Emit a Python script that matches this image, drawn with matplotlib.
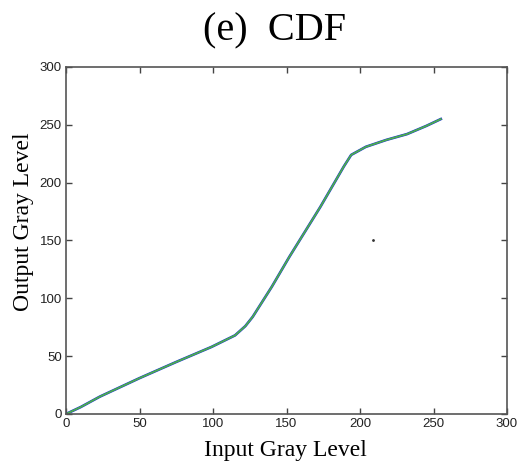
import matplotlib
matplotlib.use("Agg")
import matplotlib.pyplot as plt

# gray level transform (input -> output)
x_in = [0, 10, 23, 50, 75, 99, 115, 122, 127, 140, 152, 173, 189, 194, 204, 218, 232, 245, 255]
y_out = [0, 6, 15, 31, 45, 58, 68, 76, 84, 110, 136, 179, 214, 224, 231, 237, 242, 249, 255]
xticks = [0, 50, 100, 150, 200, 250, 300]
yticks = [0, 50, 100, 150, 200, 250, 300]
stray_x, stray_y = [209], [150]

fig = plt.figure(figsize=(5.17, 4.62), dpi=100)
ax = fig.add_axes([66 / 517, 48 / 462, 441 / 517, 347 / 462])

ax.plot(x_in, y_out, color="#1a2fd6", lw=1.9)
ax.plot(x_in, y_out, color="#4cae4c", lw=1.3)
ax.plot(stray_x, stray_y, ".", color="#333333", ms=2)

ax.set_xlim(0, 300)
ax.set_ylim(0, 300)
ax.set_xticks(xticks)
ax.set_yticks(yticks)
ax.tick_params(direction="in", top=True, right=True, length=4, width=1,
               color="#444444", labelsize=9.5, labelcolor="#222222", pad=3)
for lab in ax.get_xticklabels() + ax.get_yticklabels():
    lab.set_family("Liberation Sans")
for s in ax.spines.values():
    s.set_color("#555555")
    s.set_linewidth(1.2)

serif = "Liberation Serif"
fig.text(275 / 517, 1 - 40.7 / 462, "(e)  CDF", family=serif, fontsize=29,
         ha="center", va="baseline")
fig.text(285 / 517, 1 - 456 / 462, "Input Gray Level", family=serif, fontsize=17,
         ha="center", va="baseline")
fig.text(24 / 517, 240 / 462, "Output Gray Level", family=serif, fontsize=17,
         ha="center", va="center", rotation=90)

fig.savefig("out.png", dpi=100)
